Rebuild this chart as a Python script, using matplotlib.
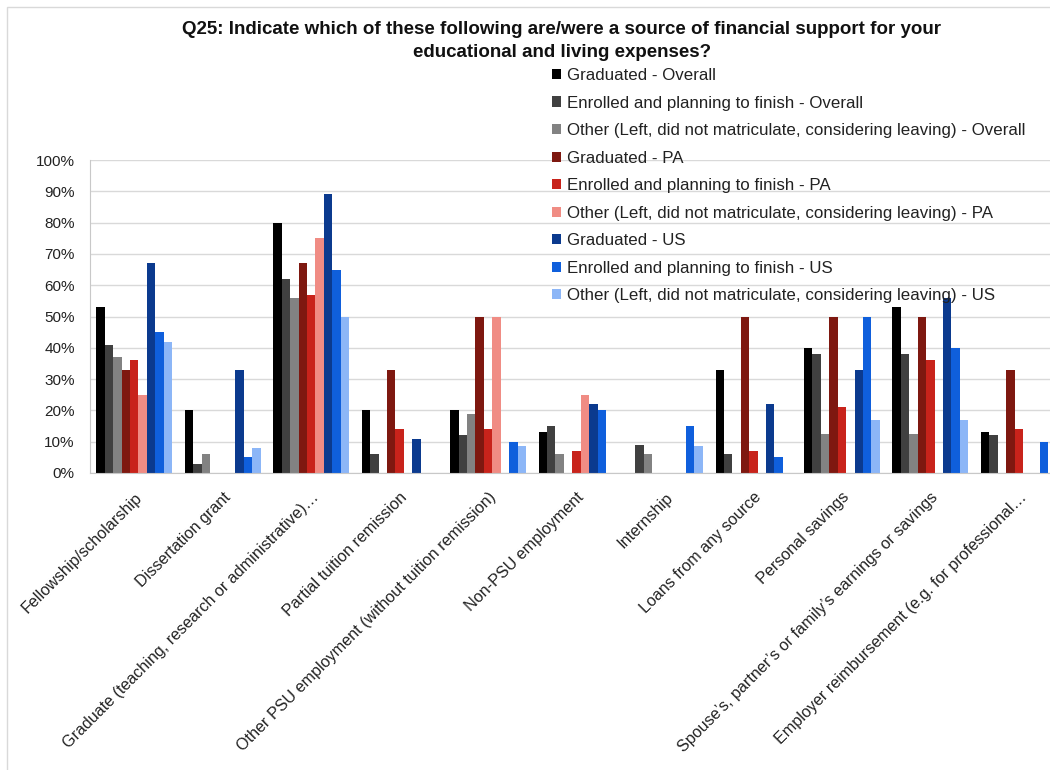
import matplotlib
matplotlib.use('Agg')
import matplotlib.pyplot as plt
import matplotlib.patches as mpatches
import numpy as np

plt.rcParams['font.family'] = ['Liberation Sans', 'DejaVu Sans']

categories = [
    'Fellowship/scholarship',
    'Dissertation grant',
    'Graduate (teaching, research or administrative)\u2026',
    'Partial tuition remission',
    'Other PSU employment (without tuition remission)',
    'Non-PSU employment',
    'Internship',
    'Loans from any source',
    'Personal savings',
    'Spouse\u2019s, partner\u2019s or family\u2019s earnings or savings',
    'Employer reimbursement (e.g. for professional\u2026',
]

series_names = [
    'Graduated - Overall',
    'Enrolled and planning to finish - Overall',
    'Other (Left, did not matriculate, considering leaving) - Overall',
    'Graduated - PA',
    'Enrolled and planning to finish - PA',
    'Other (Left, did not matriculate, considering leaving) - PA',
    'Graduated - US',
    'Enrolled and planning to finish - US',
    'Other (Left, did not matriculate, considering leaving) - US',
]

grad_overall = [53, 20, 80, 20, 20, 13, 0, 33, 40, 53, 13]
enrolled_overall = [41, 3, 62, 6, 12, 15, 9, 6, 38, 38, 12]
other_overall = [37, 6, 56, 0, 19, 6, 6, 0, 12.5, 12.5, 0]
grad_pa = [33, 0, 67, 33, 50, 0, 0, 50, 50, 50, 33]
enrolled_pa = [36, 0, 57, 14, 14, 7, 0, 7, 21, 36, 14]
other_pa = [25, 0, 75, 0, 50, 25, 0, 0, 0, 0, 0]
grad_us = [67, 33, 89, 11, 0, 22, 0, 22, 33, 56, 0]
enrolled_us = [45, 5, 65, 0, 10, 20, 15, 5, 50, 40, 10]
other_us = [42, 8, 50, 0, 8.5, 0, 8.5, 0, 17, 17, 0]

series_values = [grad_overall, enrolled_overall, other_overall,
                 grad_pa, enrolled_pa, other_pa,
                 grad_us, enrolled_us, other_us]

colors = ['#000000', '#404040', '#828282',
          '#7e1810', '#c8231b', '#f08c84',
          '#0b3a8e', '#0f5fdc', '#8cb6f7']


def plot_chart(outfile):
    fig = plt.figure(figsize=(10.5, 7.7), dpi=100)
    ax = fig.add_axes([90 / 1050, 297 / 770, 973 / 1050, 313 / 770])

    x = np.arange(len(categories))
    width = 1 / 10.5
    for i, (name, vals, col) in enumerate(zip(series_names, series_values, colors)):
        ax.bar(x + (i - 4) * width, np.array(vals) / 100, width,
               color=col, label=name, zorder=2)

    ax.set_xlim(-0.5, len(categories) - 0.5)
    ax.set_ylim(0, 1)
    ax.set_yticks(np.arange(0, 1.01, 0.1))
    ax.set_yticklabels(['%d%%' % v for v in range(0, 101, 10)])
    ax.yaxis.grid(True, color='#d9d9d9', linewidth=1, zorder=0)
    ax.set_axisbelow(True)
    ax.tick_params(axis='y', length=0, pad=11, labelsize=11, labelcolor='#222222')
    ax.tick_params(axis='x', length=0, pad=12)
    ax.set_xticks(x)
    ax.set_xticklabels(categories, rotation=45, ha='right', va='top',
                       rotation_mode='anchor', fontsize=11.6, color='#222222')
    for side in ['top', 'right']:
        ax.spines[side].set_visible(False)
    for side in ['left', 'bottom']:
        ax.spines[side].set_color('#c8c8c8')

    fig.text(0.535, 1 - 41 / 770,
             'Q25: Indicate which of these following are/were a source of financial support for your\n'
             'educational and living expenses?',
             ha='center', va='center', fontsize=13.5, fontweight='bold',
             color='#111111', linespacing=1.4)

    leg = fig.legend(loc='upper left', bbox_to_anchor=(552 / 1050, 1 - 68 / 770),
                     frameon=False, fontsize=12.2, handlelength=0.55, handleheight=0.55,
                     handletextpad=0.35, labelspacing=0.74, borderpad=0,
                     borderaxespad=0)
    for t in leg.get_texts():
        t.set_color('#222222')

    # thin border round the chart area
    fig.patches.append(mpatches.Rectangle((7 / 1050, -0.1), 1.2, 1.1 - 7 / 770,
                                          transform=fig.transFigure, fill=False,
                                          edgecolor='#d9d9d9', linewidth=1))

    fig.savefig(outfile, dpi=100)


if __name__ == '__main__':
    plot_chart('out.png')
